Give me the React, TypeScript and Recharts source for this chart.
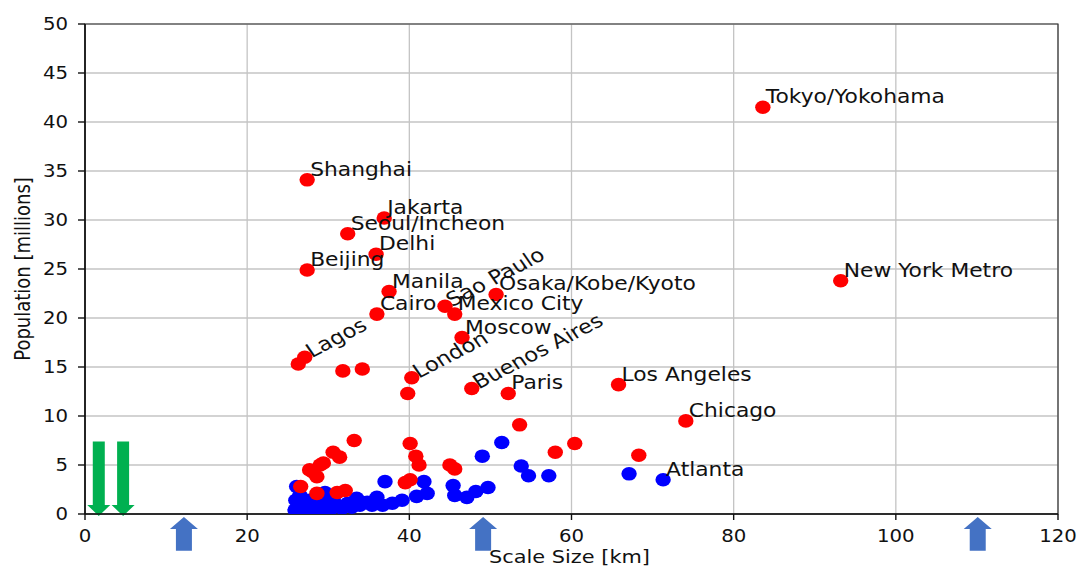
import React from 'react';
import { ScatterChart, Scatter, XAxis, YAxis, CartesianGrid, ReferenceArea } from 'recharts';

const xTicks = [0, 20, 40, 60, 80, 100, 120];
const yTicks = [0, 5, 10, 15, 20, 25, 30, 35, 40, 45, 50];

const labeledRed = [
  { name: 'Tokyo/Yokohama', x: 83.6, y: 41.5 },
  { name: 'Shanghai', x: 27.4, y: 34.1 },
  { name: 'Jakarta', x: 36.9, y: 30.2 },
  { name: 'Seoul/Incheon', x: 32.4, y: 28.6 },
  { name: 'Delhi', x: 35.9, y: 26.5 },
  { name: 'Beijing', x: 27.4, y: 24.9 },
  { name: 'New York Metro', x: 93.2, y: 23.8 },
  { name: 'Manila', x: 37.5, y: 22.7 },
  { name: 'Osaka/Kobe/Kyoto', x: 50.7, y: 22.4 },
  { name: 'Sao Paulo', x: 44.4, y: 21.2 },
  { name: 'Cairo', x: 36.0, y: 20.4 },
  { name: 'Mexico City', x: 45.6, y: 20.4 },
  { name: 'Moscow', x: 46.5, y: 18.0 },
  { name: 'Lagos', x: 27.1, y: 16.0 },
  { name: 'London', x: 40.3, y: 13.9 },
  { name: 'Los Angeles', x: 65.8, y: 13.2 },
  { name: 'Buenos Aires', x: 47.7, y: 12.8 },
  { name: 'Paris', x: 52.2, y: 12.3 },
  { name: 'Chicago', x: 74.1, y: 9.5 },
];

const otherRed = [
  { x: 26.3, y: 15.3 }, { x: 31.8, y: 14.6 }, { x: 34.2, y: 14.8 }, { x: 39.8, y: 12.3 },
  { x: 53.6, y: 9.1 }, { x: 33.2, y: 7.5 }, { x: 40.1, y: 7.2 }, { x: 40.8, y: 5.9 },
  { x: 41.2, y: 5.0 }, { x: 45.0, y: 5.0 }, { x: 45.6, y: 4.6 }, { x: 30.6, y: 6.3 },
  { x: 31.4, y: 5.8 }, { x: 29.0, y: 5.0 }, { x: 28.1, y: 4.3 }, { x: 29.4, y: 5.2 },
  { x: 28.6, y: 3.8 }, { x: 27.7, y: 4.5 }, { x: 26.6, y: 2.8 }, { x: 28.6, y: 2.1 },
  { x: 32.1, y: 2.4 }, { x: 31.1, y: 2.2 }, { x: 39.5, y: 3.2 }, { x: 40.1, y: 3.5 },
  { x: 60.4, y: 7.2 }, { x: 58.0, y: 6.3 }, { x: 68.3, y: 6.0 },
];

const labeledBlue = [{ name: 'Atlanta', x: 71.3, y: 3.5 }];

const otherBlue = [
  { x: 51.4, y: 7.3 }, { x: 49.0, y: 5.9 }, { x: 53.8, y: 4.9 }, { x: 54.7, y: 3.9 },
  { x: 57.2, y: 3.9 }, { x: 67.1, y: 4.1 }, { x: 45.4, y: 2.9 }, { x: 45.6, y: 1.9 },
  { x: 47.1, y: 1.7 }, { x: 48.2, y: 2.3 }, { x: 49.7, y: 2.7 }, { x: 37.0, y: 3.3 },
  { x: 41.8, y: 3.3 }, { x: 40.9, y: 1.8 }, { x: 42.2, y: 2.1 }, { x: 39.1, y: 1.4 },
  { x: 37.9, y: 1.1 }, { x: 36.0, y: 1.7 }, { x: 34.8, y: 1.2 }, { x: 33.5, y: 1.6 },
  { x: 32.4, y: 1.1 }, { x: 31.1, y: 0.9 }, { x: 29.6, y: 2.2 }, { x: 26.1, y: 2.8 },
  { x: 25.9, y: 0.4 }, { x: 26.0, y: 1.4 }, { x: 26.5, y: 1.9 }, { x: 26.9, y: 0.9 },
  { x: 27.4, y: 0.2 }, { x: 27.7, y: 1.4 }, { x: 28.1, y: 0.7 }, { x: 28.7, y: 1.7 },
  { x: 29.0, y: 0.3 }, { x: 29.6, y: 1.0 }, { x: 30.2, y: 0.4 }, { x: 30.6, y: 1.6 },
  { x: 31.7, y: 0.6 }, { x: 32.9, y: 0.7 }, { x: 33.9, y: 0.9 }, { x: 35.4, y: 0.9 },
  { x: 36.7, y: 0.9 },
];

const rotatedNames = ['Sao Paulo', 'Lagos', 'London', 'Buenos Aires'];

const greenArrowX = [1.7, 4.7];
const greenArrowRange = [-0.2, 7.4];
const blueArrowX = [12.2, 49.1, 110.1];
const blueArrowRange = [-3.75, -0.3];

const FONT = 'DejaVu Sans';
const STRETCH = 1.16;

const redAll = [...labeledRed, ...otherRed];
const blueAll = [...labeledBlue, ...otherBlue];
const labelsAll = [...labeledRed, ...labeledBlue];

const Dot = (color: string) => (p: any) => {
  if (p.cx == null || p.cy == null) return <g />;
  return <ellipse cx={p.cx} cy={p.cy} rx={7.7} ry={6.8} fill={color} />;
};

const CityLabel = (p: any) => {
  const { cx, cy, payload } = p;
  if (cx == null || cy == null) return <g />;
  const rotated = rotatedNames.includes(payload.name);
  const tx = rotated ? cx + 7 : cx + 3;
  const ty = rotated ? cy + 1 : cy - 4;
  const rot = rotated ? -31 : 0;
  return (
    <text
      transform={`translate(${tx},${ty}) scale(${STRETCH},1) rotate(${rot})`}
      fontFamily={FONT}
      fontSize={rotated ? 19.5 : 18.8}
      fill="#111"
    >
      {payload.name}
    </text>
  );
};

const DownArrow = (p: any) => {
  const { x, y, width, height } = p;
  const cx = x + width / 2;
  const sw = 12, hw = 23, hh = 11;
  const b = y + height;
  const pts = [
    [cx - sw / 2, y], [cx + sw / 2, y], [cx + sw / 2, b - hh], [cx + hw / 2, b - hh],
    [cx, b], [cx - hw / 2, b - hh], [cx - sw / 2, b - hh],
  ].map((q) => q.join(',')).join(' ');
  return <polygon points={pts} fill="#00B050" />;
};

const UpArrow = (p: any) => {
  const { x, y, width, height } = p;
  const cx = x + width / 2;
  const sw = 16, hw = 28, hh = 12;
  const b = y + height;
  const pts = [
    [cx, y], [cx + hw / 2, y + hh], [cx + sw / 2, y + hh], [cx + sw / 2, b],
    [cx - sw / 2, b], [cx - sw / 2, y + hh], [cx - hw / 2, y + hh],
  ].map((q) => q.join(',')).join(' ');
  return <polygon points={pts} fill="#4472C4" />;
};

const XTick = (p: any) => {
  const { x, payload } = p;
  return (
    <text
      transform={`translate(${x},542) scale(${STRETCH},1)`}
      textAnchor="middle"
      fontFamily={FONT}
      fontSize={17}
      fill="#111"
    >
      {payload.value}
    </text>
  );
};

const YTick = (p: any) => {
  const { y, payload } = p;
  return (
    <text
      transform={`translate(68,${y + 6}) scale(${STRETCH},1)`}
      textAnchor="end"
      fontFamily={FONT}
      fontSize={17}
      fill="#111"
    >
      {payload.value}
    </text>
  );
};

const YLabel = (p: any) => {
  const vb = p.viewBox || { y: 24, height: 490 };
  const cy = vb.y + vb.height / 2;
  return (
    <text
      transform={`translate(30,${cy}) scale(${STRETCH},1) rotate(-90)`}
      textAnchor="middle"
      fontFamily={FONT}
      fontSize={18}
      fill="#111"
    >
      Population [millions]
    </text>
  );
};

const XLabel = (p: any) => {
  const vb = p.viewBox || { x: 85, width: 973 };
  const cx = vb.x + vb.width / 2;
  return (
    <text
      transform={`translate(${cx - 2},563) scale(${STRETCH},1)`}
      textAnchor="middle"
      fontFamily={FONT}
      fontSize={18}
      fill="#111"
    >
      Scale Size [km]
    </text>
  );
};

export default function App() {
  return (
    <div style={{ position: 'absolute', left: 0, top: 0, width: 1081, height: 568, background: '#fff' }}>
      <ScatterChart width={1081} height={568} margin={{ top: 24, right: 23, bottom: 0, left: 0 }}>
        <CartesianGrid stroke="#c4c4c4" strokeWidth={1.3} />
        <XAxis
          type="number"
          dataKey="x"
          domain={[0, 120]}
          ticks={xTicks}
          height={54}
          axisLine={{ stroke: '#111', strokeWidth: 1.6 }}
          tickLine={{ stroke: '#111', strokeWidth: 1.4 }}
          tickSize={6}
          tick={<XTick />}
          label={<XLabel />}
          allowDataOverflow
        />
        <YAxis
          type="number"
          dataKey="y"
          domain={[0, 50]}
          ticks={yTicks}
          width={85}
          axisLine={{ stroke: '#111', strokeWidth: 1.6 }}
          tickLine={{ stroke: '#111', strokeWidth: 1.4 }}
          tickSize={7}
          tick={<YTick />}
          label={<YLabel />}
          allowDataOverflow
        />
        <ReferenceArea x1={0} x2={120} y1={0} y2={50} fill="none" stroke="#333" strokeWidth={1.2} ifOverflow="visible" />
        <Scatter data={blueAll} fill="#0000FF" shape={Dot('#0000FF')} isAnimationActive={false} />
        <Scatter data={redAll} fill="#FF0000" shape={Dot('#FF0000')} isAnimationActive={false} />
        <Scatter data={labelsAll} fill="none" shape={CityLabel} isAnimationActive={false} />
        {greenArrowX.map((gx) => (
          <ReferenceArea
            key={`g${gx}`}
            x1={gx - 1}
            x2={gx + 1}
            y1={greenArrowRange[0]}
            y2={greenArrowRange[1]}
            ifOverflow="visible"
            shape={<DownArrow />}
          />
        ))}
        {blueArrowX.map((bx) => (
          <ReferenceArea
            key={`b${bx}`}
            x1={bx - 1}
            x2={bx + 1}
            y1={blueArrowRange[0]}
            y2={blueArrowRange[1]}
            ifOverflow="visible"
            shape={<UpArrow />}
          />
        ))}
      </ScatterChart>
    </div>
  );
}
